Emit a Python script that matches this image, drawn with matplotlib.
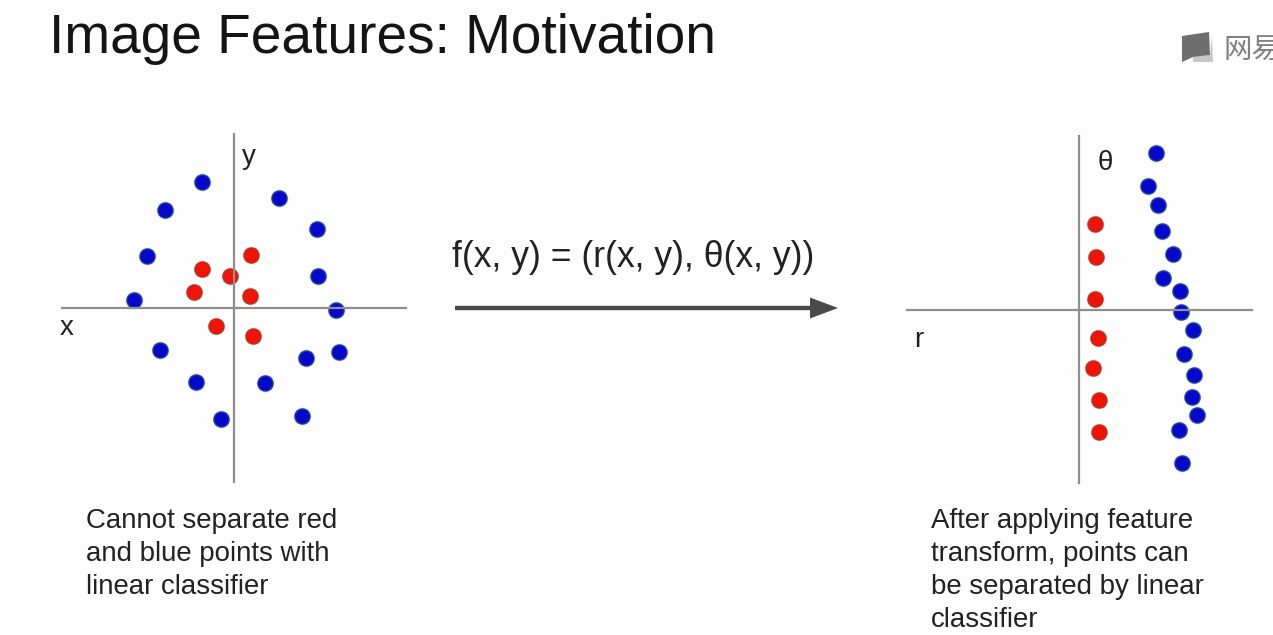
import matplotlib
matplotlib.use('Agg')
import matplotlib.pyplot as plt
from matplotlib.patches import Polygon

W=1273
H=635
plt.rcParams['font.family']=['Liberation Sans','DejaVu Sans']

# offsets from the axes crossing
left_blue_x=[-31.7,-68.7,-87.3,-99.7,-73.7,-37.7,-13,44.7,82.7,84,102.3,105.3,72.3,31.3,68.3]
left_blue_y=[125.7,98,51.7,8,-42.3,-74.3,-111.3,110,78.4,32,-2.3,-44.3,-50.6,-75.6,-108.3]
left_red_x=[16.7,-31.7,-4.3,-40,15.7,-18.3,18.7]
left_red_y=[52.7,38.4,32,15.7,11.4,-18.6,-28]

right_blue_x=[76.7,69.3,78.7,83,94.3,84,101.3,102.3,114,105.3,115,112.7,118,100.3,103.3]
right_blue_y=[157,124,105.3,78.7,56.3,32,18.7,-2,-19.7,-44.3,-65,-86.7,-105.3,-119.7,-152.7]
right_red_x=[16,16.7,16,18.7,13.7,20,20]
right_red_y=[85.7,52.7,11.3,-28,-57.7,-89.7,-121.7]

title='Image Features: Motivation'
formula='f(x, y) = (r(x, y), θ(x, y))'
left_note=['Cannot separate red','and blue points with','linear classifier']
right_note=['After applying feature','transform, points can','be separated by linear','classifier']

BLUE='#0508c8'
BLUE_EDGE='#1c3a90'
RED='#f01408'
RED_EDGE='#b03028'
AXIS='#8f8f8f'
BG='#fdfdfd'

def make_scatter(fig,x0,x1,y0,y1,cx,cy,bx,by,rx,ry):
    ax=fig.add_axes([x0/W,1-y1/H,(x1-x0)/W,(y1-y0)/H])
    ax.set_xlim(x0-cx,x1-cx)
    ax.set_ylim(cy-y1,cy-y0)
    ax.patch.set_alpha(0)
    ax.set_xticks([])
    ax.set_yticks([])
    for s in ['top','right']:
        ax.spines[s].set_visible(False)
    for s in ['left','bottom']:
        ax.spines[s].set_position('zero')
        ax.spines[s].set_color(AXIS)
        ax.spines[s].set_linewidth(1.6)
    # soft halo first, the video frame is a bit blurred
    ax.plot(bx,by,'o',ms=12.6,mfc=BLUE_EDGE,mec='none',alpha=0.3,ls='none',clip_on=False)
    ax.plot(rx,ry,'o',ms=12.6,mfc=RED_EDGE,mec='none',alpha=0.3,ls='none',clip_on=False)
    ax.plot(bx,by,'o',ms=10.8,mfc=BLUE,mec=BLUE_EDGE,mew=0.9,ls='none',clip_on=False)
    ax.plot(rx,ry,'o',ms=10.8,mfc=RED,mec=RED_EDGE,mew=0.9,ls='none',clip_on=False)
    return ax

fig=plt.figure(figsize=(W/100,H/100),dpi=100,facecolor=BG)

make_scatter(fig,62,406,134,482,234,307.7,left_blue_x,left_blue_y,left_red_x,left_red_y)
make_scatter(fig,907,1252,136,483,1079,310,right_blue_x,right_blue_y,right_red_x,right_red_y)

# overlay in pixel units for text, arrow, watermark
ov=fig.add_axes([0,0,1,1])
ov.set_xlim(0,W)
ov.set_ylim(H,0)
ov.axis('off')
ov.patch.set_alpha(0)

TXT='#222222'
ov.text(49,53,title,fontsize=39.6,color='#141414',va='baseline',ha='left')
ov.text(452,267,formula,fontsize=25.6,color=TXT,va='baseline',ha='left')

for i,line in enumerate(left_note):
    ov.text(86,528.5+i*32.7,line,fontsize=19.9,color=TXT,va='baseline',ha='left')
for i,line in enumerate(right_note):
    ov.text(931,528.5+i*32.7,line,fontsize=19.9,color=TXT,va='baseline',ha='left')

ov.text(242,164,'y',fontsize=20,color=TXT,va='baseline',ha='left')
ov.text(60,335,'x',fontsize=20,color=TXT,va='baseline',ha='left')
ov.text(1098,170,'θ',fontsize=20,color=TXT,va='baseline',ha='left')
ov.text(914,347,'r',fontsize=20,color=TXT,va='baseline',ha='left')

# arrow
ov.arrow(455,308,383,0,width=4.4,head_width=21,head_length=28,length_includes_head=True,fc='#4a4a4a',ec='none')

# watermark
ov.add_patch(Polygon([(1212,37),(1213,62),(1193,62),(1193,57),(1210,55)],closed=True,fc='#c6c6c6',ec='none'))
ov.add_patch(Polygon([(1182,36),(1209,32),(1210,55),(1193,57),(1182,62)],closed=True,fc='#6e6e6e',ec='none'))
ov.text(1224,49.5,'网易',fontsize=20.5,color='#808080',va='center',ha='left',family=['Noto Sans CJK SC','DejaVu Sans'])

fig.savefig('out.png',dpi=100,facecolor=BG)
